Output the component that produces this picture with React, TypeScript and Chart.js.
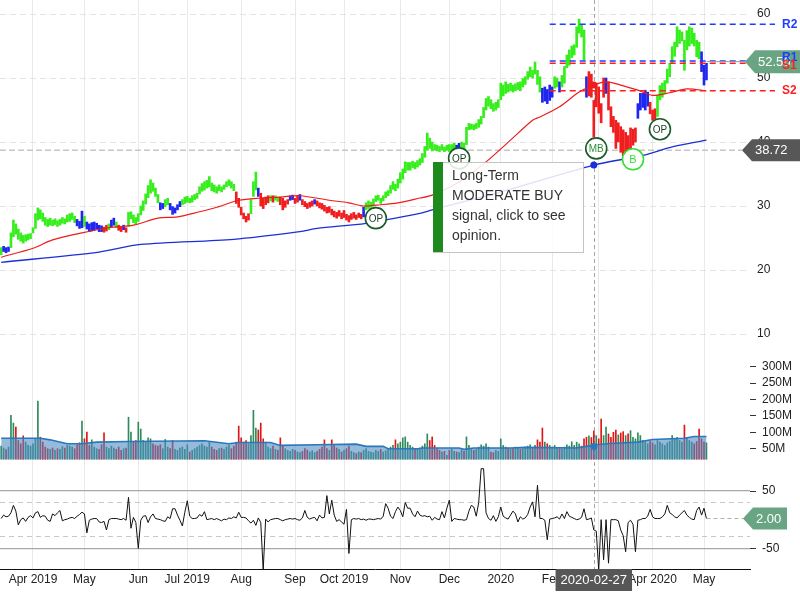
import React, { useEffect, useRef } from 'react';
import { Chart, registerables } from 'chart.js';

Chart.register(...registerables);

// ---------------- data ----------------
const monthTickIdx = [13, 34, 56, 76, 98, 120, 140, 163, 183, 204, 225, 244, 266, 287];
const monthTickLabels = ['Apr 2019', 'May', 'Jun', 'Jul 2019', 'Aug', 'Sep', 'Oct 2019', 'Nov', 'Dec', '2020', 'Feb', 'Mar', 'Apr 2020', 'May'];
const priceTicks = [10, 20, 30, 40, 50, 60];
const volumeTicks = [50, 100, 150, 200, 250, 300];
const oscTicks = [-50, 50];
const oscBandTicks = [-30, 30];

const barLows = [
  22.4, 22.9, 22.7, 22.9, 23.5, 25.2, 25.6, 24.8, 24.5, 24.2,
  24.5, 24.7, 24.9, 25.8, 26.5, 27.8, 28.0, 27.6, 27.0, 26.8,
  27.0, 26.9, 27.1, 26.8, 27.0, 27.3, 27.2, 27.5, 27.6, 27.9,
  27.4, 26.9, 26.5, 26.6, 26.8, 26.4, 26.0, 26.1, 26.2, 26.4,
  26.0, 26.0, 25.9, 26.1, 26.3, 26.7, 27.0, 26.6, 26.2, 26.0,
  26.3, 25.9, 26.8, 28.0, 27.4, 27.1, 27.6, 28.6, 29.3, 30.3,
  31.3, 32.0, 32.3, 31.5, 30.5, 29.4, 29.6, 29.9, 30.2, 29.4,
  28.7, 28.9, 29.4, 29.9, 30.2, 30.4, 30.6, 30.5, 30.6, 31.0,
  31.2, 31.9, 32.3, 32.5, 32.8, 33.0, 32.4, 32.2, 32.0, 32.4,
  32.2, 32.6, 33.0, 33.2, 32.8, 32.4, 30.4, 29.8, 28.6, 28.0,
  27.5, 27.8, 28.8, 31.5, 32.5, 31.5, 30.0, 29.6, 30.2, 30.5,
  30.8, 30.6, 30.9, 30.7, 30.2, 29.4, 29.8, 30.3, 30.9, 31.0,
  30.4, 30.6, 30.9, 30.2, 29.9, 29.6, 29.8, 30.0, 30.3, 30.0,
  29.7, 29.5, 29.2, 28.9, 29.0, 28.6, 28.3, 28.1, 28.4, 28.0,
  28.2, 27.8, 27.5, 27.9, 28.1, 27.9, 28.2, 28.0, 28.3, 29.4,
  29.6, 29.8, 30.0, 30.7, 30.9, 30.4, 30.8, 31.3, 31.6, 32.0,
  32.6, 32.4, 32.8, 33.6, 34.2, 35.2, 35.6, 35.6, 36.0, 35.8,
  36.1, 36.4, 36.8, 37.6, 38.8, 39.0, 38.6, 38.8, 38.6, 38.5,
  38.8, 38.5, 38.7, 38.5, 38.7, 38.8, 38.9, 39.0, 39.2, 38.9,
  39.6, 41.9, 42.0, 41.9, 42.1, 42.3, 42.8, 43.8, 45.0, 45.6,
  45.2, 44.8, 45.0, 45.4, 46.6, 47.2, 47.6, 47.8, 48.0, 47.8,
  48.0, 48.2, 48.0, 48.6, 49.0, 49.8, 50.2, 50.0, 50.6, 49.0,
  47.8, 46.2, 46.4, 46.0, 46.5, 47.0, 48.4, 48.6, 47.8, 48.6,
  49.2, 51.6, 52.0, 53.2, 53.6, 54.8, 57.0, 56.4, 52.8, 47.0,
  47.2, 47.0, 40.8, 45.5, 44.5, 43.0, 47.0, 47.6, 45.0, 42.4,
  41.5, 39.0, 40.0, 38.4, 37.8, 38.2, 37.7, 38.8, 39.5, 40.0,
  43.7, 45.0, 45.4, 45.0, 45.6, 44.4, 43.4, 43.6, 44.0, 46.6,
  47.0, 47.6, 49.2, 50.2, 52.3, 53.4, 54.9, 55.4, 55.8, 51.2,
  54.4, 55.0, 55.4, 55.0, 53.3, 53.0, 51.0, 48.9, 49.7,
];

const barHighs = [
  23.5, 23.7, 23.5, 23.6, 25.8, 27.8, 27.2, 26.4, 25.8, 25.4,
  25.5, 25.6, 25.7, 26.6, 28.8, 29.7, 29.4, 28.9, 28.2, 27.9,
  28.1, 27.8, 28.0, 27.7, 27.9, 28.2, 28.0, 28.6, 28.8, 28.9,
  28.4, 27.9, 27.6, 29.2, 28.4, 27.5, 27.2, 27.4, 27.5, 27.3,
  27.0, 26.9, 26.7, 27.0, 27.2, 27.8, 28.1, 27.5, 27.0, 26.8,
  27.0, 26.6, 29.0, 29.1, 28.6, 28.2, 28.8, 30.0, 30.8, 31.9,
  33.2, 34.1, 33.6, 32.8, 31.8, 30.5, 30.4, 31.0, 31.2, 30.4,
  29.9, 29.7, 30.2, 30.7, 31.0, 31.4, 31.5, 31.2, 31.6, 31.8,
  32.0, 33.0, 33.5, 33.8, 34.0, 34.6, 33.6, 33.3, 33.0, 33.3,
  33.0, 33.3, 33.8, 34.1, 33.8, 33.4, 32.2, 31.2, 29.8, 28.9,
  28.4, 28.8, 31.0, 33.8, 35.3, 32.8, 32.0, 31.2, 31.4, 31.6,
  31.6, 31.6, 31.6, 31.4, 31.4, 31.2, 30.8, 31.0, 31.6, 31.7,
  31.2, 31.5, 31.8, 31.0, 30.7, 30.4, 30.6, 30.8, 31.0, 30.8,
  30.5, 30.4, 30.1, 29.8, 29.9, 29.5, 29.2, 29.0, 29.3, 28.9,
  29.3, 28.7, 28.5, 28.8, 29.0, 28.6, 28.9, 28.7, 29.8, 30.5,
  30.8, 30.6, 31.1, 31.6, 31.7, 31.2, 31.6, 32.2, 32.4, 33.2,
  33.8, 33.4, 34.2, 35.2, 35.8, 36.9, 36.8, 36.8, 37.0, 36.8,
  37.1, 37.4, 38.2, 39.3, 41.4, 40.6, 40.0, 39.6, 39.5, 39.3,
  39.6, 39.2, 39.5, 39.6, 39.6, 39.8, 39.5, 39.8, 40.0, 39.8,
  42.3, 42.9, 42.8, 42.7, 42.9, 43.5, 44.0, 45.4, 46.8, 47.1,
  46.6, 46.0, 46.2, 46.6, 49.2, 48.9, 49.4, 49.0, 49.2, 48.9,
  49.1, 49.3, 49.4, 49.9, 50.2, 51.0, 51.7, 51.2, 52.5, 51.2,
  50.2, 48.4, 48.6, 48.2, 48.9, 48.6, 50.2, 50.0, 49.4, 50.4,
  51.8, 53.6, 54.4, 55.0, 55.2, 58.0, 59.2, 58.4, 57.5, 50.2,
  51.0, 50.6, 46.5, 49.2, 48.6, 46.0, 50.0, 50.0, 49.4, 45.5,
  44.0, 43.4, 43.0, 42.4, 41.9, 41.5, 41.0, 42.2, 42.0, 42.2,
  46.0, 47.6, 47.6, 48.1, 47.8, 46.2, 45.0, 45.2, 47.3, 48.8,
  49.2, 49.6, 51.4, 52.3, 54.9, 55.6, 58.0, 57.5, 57.2, 55.9,
  57.4, 58.0, 57.8, 57.0, 55.9, 55.6, 54.1, 52.0, 52.3,
];

// trend state per bar: g = bullish, b = neutral, r = bearish
const barTrend = (
  'gbbbgggggg gggggggggg gggggggggg gbbbgbbbbb bbrrgbbgrr ' +
  'brgggggggg gggggbbggb bbbbgggggg gggggggggg ggggggrrrr ' +
  'rrgggbrrrr grggrrrrbb rrbrrrrrbr rrrrrrrrrr rrrrrrrrbg ' +
  'gggggggggg gggggggggg gggggggggg ggggggbbgg gggggggggg ' +
  'gggggggggg gggggggggg gbbbbbggbg gggggggggb rrrrrrrbrr ' +
  'rrrrrrrrrr bbbbbrrrgg gggggggggg ggggggbbb'
).replace(/\s/g, '');

// daily volume, millions
const volumes = [
  58, 52, 47, 55, 152, 128, 116, 75, 65, 89,
  70, 60, 58, 65, 80, 195, 85, 70, 55, 50,
  48, 52, 45, 50, 48, 56, 52, 60, 58, 55,
  50, 62, 68, 134, 80, 101, 60, 77, 55, 50,
  48, 62, 98, 55, 50, 58, 52, 48, 55, 45,
  50, 52, 146, 101, 70, 75, 131, 110, 75, 70,
  83, 80, 65, 60, 58, 62, 50, 78, 55, 50,
  75, 48, 45, 52, 55, 48, 62, 40, 45, 50,
  55, 60, 65, 58, 55, 70, 55, 48, 45, 50,
  52, 48, 55, 60, 50, 58, 70, 119, 83, 70,
  75, 65, 90, 167, 113, 107, 128, 80, 70, 55,
  50, 58, 48, 45, 83, 60, 50, 45, 42, 48,
  45, 40, 38, 42, 50, 46, 40, 44, 38, 42,
  48, 55, 77, 50, 45, 77, 60, 52, 48, 40,
  45, 50, 58, 42, 38, 35, 40, 38, 45, 50,
  42, 40, 38, 45, 42, 48, 40, 44, 50, 55,
  60, 77, 65, 70, 83, 86, 70, 60, 55, 50,
  48, 52, 58, 65, 95, 75, 86, 60, 50, 45,
  40, 42, 30, 45, 48, 42, 40, 38, 45, 42,
  86, 60, 50, 45, 48, 55, 62, 58, 65, 55,
  40, 38, 45, 42, 80, 60, 55, 52, 48, 50,
  55, 52, 48, 50, 55, 58, 62, 50, 60, 77,
  70, 113, 70, 65, 60, 55, 60, 52, 50, 48,
  55, 62, 58, 71, 60, 70, 65, 58, 80, 85,
  89, 84, 104, 90, 80, 140, 90, 116, 95, 85,
  100, 107, 92, 98, 102, 90, 95, 105, 85, 80,
  98, 90, 75, 70, 65, 72, 68, 62, 75, 70,
  65, 60, 68, 72, 90, 80, 85, 75, 70, 122,
  85, 75, 70, 65, 72, 110, 80, 70, 68,
];

const oscillator = [
  2, 8, 5, 6, 12, 25, 15, -9, 0, 3,
  -3, 4, 7, 3, 12, 14, 4, 7, 6, -1,
  -3, 10, 7, 12, 16, -2, 0, 1, 3, 4,
  2, 6, 9, 13, 10, -23, -1, 1, 2, 2,
  -4, -5, -3, -18, 0, 2, 2, 2, 1, 0,
  2, -1, 39, -15, 4, -5, -50, -1, 6, 7,
  -5, 5, 10, 2, 1, 0, -2, -3, 5, 2,
  19, 19, 8, -1, -11, 13, 33, 6, 2, 2,
  3, 9, 6, 14, 0, 1, 2, 0, 2, 0,
  -2, 1, 0, 3, 2, 5, 3, 13, 4, 4,
  3, -2, -6, -1, -10, 3, -5, -88, 1, -4,
  0, 1, 2, 2, 0, -2, 0, 1, 2, 1,
  2, 0, -1, 3, 16, 4, 1, 3, 4, -2,
  8, 3, 4, 42, 10, 34, 8, -3, 0, -4,
  -8, 18, -59, 0, 2, 1, 2, 0, 1, -1,
  1, 1, 0, 1, 2, 1, 6, 28, 20, 6,
  2, 14, 22, 16, 5, 30, 20, 20, 10, 5,
  15, 8, 6, 7, 5, 6, -1, 4, 1, 0,
  14, 3, 20, 34, -3, 2, 1, 0, 0, -1,
  0, 15, 25, 22, 6, 30, 89, 89, 12, 2,
  -1, 7, -3, 5, 22, 6, 3, 1, 8, 15,
  10, -4, 5, 1, 3, 9, 22, 31, 5, 60,
  2, 2, -1, -35, 1, 2, 3, 5, 1, 10,
  2, 14, 6, 4, 2, 0, 1, 4, 19, 0,
  1, 3, -18, -20, -88, 0, -70, 0, -76, 0,
  0, 0, -2, -18, -28, -56, -5, -1, -8, -56,
  -1, 0, 2, 2, 6, 18, 5, 2, 2, 2,
  5, 10, 25, 12, 9, 5, 3, 8, 12, 16,
  8, 4, 1, 0, 16, 22, 8, 20, 2,
];

// moving averages read at selected sessions
const redMAIdx = [0, 13, 21, 33, 44, 54, 64, 72, 81, 88, 97, 106, 114, 122, 134, 142, 148, 155, 162, 171, 176, 187, 198, 208, 217, 220, 228, 236, 242, 247, 253, 260, 266, 273, 280, 288];
const redMAVal = [22.0, 23.4, 24.7, 25.8, 26.6, 27.0, 28.1, 28.3, 29.1, 29.8, 30.9, 31.25, 31.4, 31.6, 30.9, 30.5, 30.0, 30.2, 30.5, 31.25, 31.7, 33.75, 36.9, 40.3, 43.4, 43.9, 45.5, 47.8, 48.9, 49.4, 48.9, 48.1, 47.3, 47.7, 48.3, 48.0];
const blueMAIdx = [0, 40, 57, 95, 122, 129, 149, 171, 176, 204, 242, 262, 274, 288];
const blueMAVal = [21.2, 22.8, 24.0, 24.8, 26.0, 26.5, 27.3, 28.85, 29.4, 32.2, 36.4, 37.9, 39.25, 40.3];
const volMAIdx = [0, 16, 20, 27, 33, 39, 52, 83, 93, 97, 110, 114, 129, 145, 149, 156, 158, 170, 172, 187, 189, 193, 208, 214, 235, 239, 243, 249, 260, 266, 279, 283, 288];
const volMAVal = [82, 82, 77, 65, 65, 70, 72, 74, 65, 69, 69, 60, 62, 64, 57, 57, 50, 50, 52, 52, 48, 52, 52, 54, 52, 57, 62, 66, 70, 78, 82, 87, 87];
const volBase = 17.7;

// support / resistance
const levelNames = ['R2', 'R1', 'S1', 'S2'];
const levelValues = [58.4, 52.66, 52.3, 48.0];
const levelStartIdx = 224;
const levelEndIdx = 316;

// crosshair
const crossIdx = 242;
const crossPrice = 38.72;
const crossDate = '2020-02-27';
const crossRedMA = 48.9;
const crossBlueMA = 36.4;
const crossVolMA = 57;
const lastPrice = 52.56;
const lastOsc = 2.0;

// signals
const signalIdx = [153, 187, 243, 258, 269];
const signalPrice = [28.1, 37.45, 39.0, 37.3, 42.0];
const signalText = ['OP', 'OP', 'MB', 'B', 'OP'];
const signalKind = ['op', 'op', 'mb', 'b', 'op'];

const tooltipLines = ['Long-Term', 'MODERATE BUY', 'signal, click to see', 'opinion.'];

// ---------------- styles ----------------
const FONT = "'Liberation Sans', Arial, Helvetica, sans-serif";
const trendColors: Record<string, string> = { g: '#36ee1c', b: '#1f26f0', r: '#f01e1e' };
const levelColors = ['#1f3cff', '#1f3cff', '#ff1f1f', '#ff1f1f'];
const signalStroke: Record<string, string> = { op: '#1b5a2b', mb: '#1b5a2b', b: '#33e033' };
const signalTextColor: Record<string, string> = { op: '#1b3d24', mb: '#2f8f3c', b: '#33e033' };

function tag(ctx: any, tipX: number, cy: number, w: number, h: number, color: string, text: string) {
  ctx.save();
  ctx.fillStyle = color;
  ctx.beginPath();
  ctx.moveTo(tipX, cy);
  ctx.lineTo(tipX + 10, cy - h / 2);
  ctx.lineTo(tipX + w, cy - h / 2);
  ctx.lineTo(tipX + w, cy + h / 2);
  ctx.lineTo(tipX + 10, cy + h / 2);
  ctx.closePath();
  ctx.fill();
  ctx.fillStyle = '#ffffff';
  ctx.font = `13px ${FONT}`;
  ctx.textAlign = 'left';
  ctx.textBaseline = 'middle';
  ctx.fillText(text, tipX + 13, cy + 0.5);
  ctx.restore();
}

const MARKER_DS = 12;
const AXIS_BAND = 50;
const RIGHT_AXES = ['y', 'yv', 'yo', 'yoGrid', 'yo2'];

const overlayPlugin = {
  id: 'overlay',
  afterLayout(chart: any) {
    // the y axes share one strip on the right: widen their boxes so labels are not clipped
    RIGHT_AXES.forEach((id) => {
      const s = chart.scales[id];
      if (s) {
        s.left = chart.chartArea.right;
        s.right = s.left + AXIS_BAND;
        s.width = AXIS_BAND;
      }
    });
  },
  beforeDatasetsDraw(chart: any) {
    const { ctx, chartArea, scales } = chart;
    const cx = Math.round(scales.x.getPixelForValue(crossIdx)) + 0.5;
    const cy = scales.y.getPixelForValue(crossPrice);
    ctx.save();
    ctx.lineWidth = 1;
    ctx.strokeStyle = '#a6a6a6';
    ctx.setLineDash([4, 3]);
    ctx.beginPath();
    ctx.moveTo(cx, chartArea.top);
    ctx.lineTo(cx, chartArea.bottom);
    ctx.stroke();
    ctx.strokeStyle = '#c6c6c6';
    ctx.lineWidth = 1.5;
    ctx.setLineDash([6, 3]);
    ctx.beginPath();
    ctx.moveTo(chartArea.left, cy);
    ctx.lineTo(chartArea.right - 8, cy);
    ctx.stroke();
    ctx.restore();
  },
  afterDatasetsDraw(chart: any) {
    const { ctx } = chart;
    const meta = chart.getDatasetMeta(MARKER_DS);
    ctx.save();
    ctx.textAlign = 'center';
    ctx.textBaseline = 'middle';
    meta.data.forEach((el: any, i: number) => {
      const k = signalKind[i];
      ctx.fillStyle = signalTextColor[k];
      ctx.font = `${k === 'b' ? 11 : 10}px ${FONT}`;
      ctx.fillText(signalText[i], el.x, el.y + 1);
    });
    ctx.restore();
  },
  afterDraw(chart: any) {
    const { ctx, chartArea, scales } = chart;
    const x = scales.x;
    const y = scales.y;
    const lastX = x.getPixelForValue(barLows.length - 1);

    // oscillator tick marks
    ctx.save();
    ctx.strokeStyle = '#333333';
    ctx.lineWidth = 1;
    oscTicks.forEach((v) => {
      const ty = Math.round(scales.yo.getPixelForValue(v)) + 0.5;
      ctx.beginPath();
      ctx.moveTo(chartArea.right + 1, ty);
      ctx.lineTo(chartArea.right + 6, ty);
      ctx.stroke();
    });
    ctx.restore();

    // last price line + tag
    const ly = y.getPixelForValue(lastPrice);
    ctx.save();
    ctx.strokeStyle = '#9a9a9a';
    ctx.lineWidth = 1;
    ctx.beginPath();
    ctx.moveTo(lastX, ly);
    ctx.lineTo(chartArea.right - 5, ly);
    ctx.stroke();
    ctx.restore();
    tag(ctx, chartArea.right - 5, ly, 60, 23, '#6aa583', lastPrice.toFixed(2));

    // level labels
    ctx.save();
    ctx.font = `bold 12px ${FONT}`;
    ctx.textAlign = 'left';
    ctx.textBaseline = 'middle';
    levelNames.forEach((n, i) => {
      const py = y.getPixelForValue(levelValues[i]);
      ctx.fillStyle = levelColors[i];
      const off = n === 'R1' ? -3 : n === 'S1' ? 2 : 0;
      ctx.fillText(n, chartArea.right + 32, py + off);
    });
    ctx.restore();

    // crosshair price tag
    tag(ctx, chartArea.right - 8, y.getPixelForValue(crossPrice), 62, 22, '#575757', crossPrice.toFixed(2));

    // oscillator last value
    const ox = x.getPixelForValue(oscillator.length - 1);
    const oy = scales.yo.getPixelForValue(lastOsc);
    ctx.save();
    ctx.strokeStyle = '#b0b0b0';
    ctx.setLineDash([4, 3]);
    ctx.beginPath();
    ctx.moveTo(ox, oy);
    ctx.lineTo(chartArea.right - 7, oy);
    ctx.stroke();
    ctx.restore();
    tag(ctx, chartArea.right - 7, oy, 44, 22, '#6aa583', lastOsc.toFixed(2));

    // date tag
    const cx = x.getPixelForValue(crossIdx);
    ctx.save();
    ctx.font = `13px ${FONT}`;
    const tw = ctx.measureText(crossDate).width;
    ctx.fillStyle = '#575757';
    ctx.fillRect(cx - tw / 2 - 5, chartArea.bottom, tw + 10, 22);
    ctx.fillStyle = '#ffffff';
    ctx.textAlign = 'center';
    ctx.textBaseline = 'middle';
    ctx.fillText(crossDate, cx, chartArea.bottom + 11.5);
    ctx.restore();

    // signal tooltip
    const bx = 433, by = 162, bw = 150, bh = 90;
    ctx.save();
    ctx.fillStyle = 'rgba(255,255,255,0.86)';
    ctx.fillRect(bx, by, bw, bh);
    ctx.strokeStyle = '#c4c4c4';
    ctx.lineWidth = 1;
    ctx.strokeRect(bx + 0.5, by + 0.5, bw, bh);
    ctx.fillStyle = '#1e8a1e';
    ctx.fillRect(bx, by, 10, bh);
    ctx.fillStyle = '#333333';
    ctx.font = `14px ${FONT}`;
    ctx.textAlign = 'left';
    ctx.textBaseline = 'middle';
    tooltipLines.forEach((t, i) => ctx.fillText(t, bx + 19, by + 14 + i * 20));
    ctx.restore();
  },
};

export default function App() {
  const ref = useRef<HTMLCanvasElement | null>(null);

  useEffect(() => {
    if (!ref.current) return;
    Chart.defaults.font.family = FONT;
    Chart.defaults.font.size = 12;

    const n = barLows.length;
    const idx = barLows.map((_, i) => i);
    const mids = idx.map((i) => (barLows[i] + barHighs[i]) / 2);

    const priceBars = idx.map((i) => ({ x: i, y: [barLows[i], barHighs[i]] }));
    const priceColors = idx.map((i) => trendColors[barTrend[i]] || trendColors.g);
    const volBars = idx.map((i) => ({ x: i, y: [volBase, volumes[i]] }));
    const volColors = idx.map((i) => (i === 0 || mids[i] >= mids[i - 1] ? '#2f8a5c' : '#e01515'));
    const oscData = oscillator.slice(0, n).map((v, i) => ({ x: i, y: v }));

    const levelSets = levelNames.map((name, i) => ({
      type: 'line',
      label: name,
      yAxisID: 'y',
      data: [{ x: levelStartIdx, y: levelValues[i] }, { x: levelEndIdx, y: levelValues[i] }],
      borderColor: levelColors[i],
      borderWidth: 1.6,
      borderDash: [6, 4],
      pointRadius: 0,
      clip: false,
      order: 6,
    }));

    const hideAxis = (s: any) => {
      s.width = 0;
      s.paddingTop = 0;
      s.paddingBottom = 0;
    };
    const fixedTicks = (vals: number[]) => (s: any) => { s.ticks = vals.map((v) => ({ value: v })); };

    const chart = new Chart(ref.current, {
      type: 'bar',
      data: {
        datasets: [
          {
            type: 'bar', label: 'vol', yAxisID: 'yv', data: volBars,
            backgroundColor: volColors, barThickness: 1, grouped: false, borderWidth: 0, order: 10,
          },
          {
            type: 'line', label: 'volMA', yAxisID: 'yv',
            data: volMAIdx.map((v, i) => ({ x: v, y: volMAVal[i] })),
            borderColor: '#2a78bb', borderWidth: 1.6, backgroundColor: 'rgba(78,140,196,0.6)',
            fill: { value: volBase }, pointRadius: 0, tension: 0, order: 9,
          },
          {
            type: 'bar', label: 'price', yAxisID: 'y', data: priceBars,
            backgroundColor: priceColors, barThickness: 2, grouped: false, borderWidth: 0, order: 8,
          },
          {
            type: 'line', label: 'osc', yAxisID: 'yo', data: oscData,
            borderColor: '#111111', borderWidth: 1, pointRadius: 0, tension: 0, order: 8,
          },
          {
            type: 'line', label: 'ma1', yAxisID: 'y',
            data: redMAIdx.map((v, i) => ({ x: v, y: redMAVal[i] })),
            borderColor: '#ee1c1c', borderWidth: 1.2, pointRadius: 0, tension: 0.3, order: 7,
          },
          {
            type: 'line', label: 'ma2', yAxisID: 'y',
            data: blueMAIdx.map((v, i) => ({ x: v, y: blueMAVal[i] })),
            borderColor: '#1a30d4', borderWidth: 1.3, pointRadius: 0, tension: 0.3, order: 7,
          },
          ...levelSets,
          {
            type: 'line', label: 'crossDots', yAxisID: 'y', showLine: false,
            data: [{ x: crossIdx, y: crossRedMA }, { x: crossIdx, y: crossBlueMA }],
            pointRadius: 3.5, pointBackgroundColor: ['#ee1c1c', '#1a30d4'], pointBorderWidth: 0, order: 5,
          },
          {
            type: 'line', label: 'crossVol', yAxisID: 'yv', showLine: false,
            data: [{ x: crossIdx, y: crossVolMA }],
            pointRadius: 3.5, pointBackgroundColor: '#2a78bb', pointBorderWidth: 0, order: 5,
          },
          {
            type: 'line', label: 'signals', yAxisID: 'y', showLine: false,
            data: signalIdx.map((v, i) => ({ x: v, y: signalPrice[i] })),
            pointRadius: 10.5, pointBackgroundColor: '#ffffff',
            pointBorderColor: signalKind.map((k) => signalStroke[k]), pointBorderWidth: 1.6, order: 4,
          },
        ] as any,
      },
      options: {
        responsive: false,
        animation: false,
        events: [],
        layout: { autoPadding: false, padding: { left: 0, right: AXIS_BAND, top: 0, bottom: 0 } },
        plugins: { legend: { display: false }, tooltip: { enabled: false } },
        scales: {
          x: {
            type: 'linear', min: -0.475, max: 305.78, offset: false,
            afterBuildTicks: fixedTicks(monthTickIdx),
            afterFit: (s: any) => { s.height = 31; s.paddingLeft = 0; s.paddingRight = 0; },
            ticks: {
              autoSkip: false, maxRotation: 0, minRotation: 0, padding: 3, color: '#222',
              font: { size: 12 }, callback: (_v: any, i: number) => monthTickLabels[i],
            },
            grid: { color: '#e9e9e9', drawTicks: false, offset: false },
            border: { display: true, color: '#111', width: 1 },
          },
          y: {
            type: 'linear', position: 'right', min: -26.72, max: 62.19,
            afterBuildTicks: fixedTicks(priceTicks),
            afterFit: hideAxis,
            ticks: { padding: 7, color: '#222', font: { size: 12 } },
            grid: { color: '#e4e4e4', drawTicks: false },
            border: { display: false, dash: [6, 4] },
          },
          yv: {
            type: 'linear', position: 'right', min: -316.8, max: 1418,
            afterBuildTicks: fixedTicks(volumeTicks),
            afterFit: hideAxis,
            ticks: { padding: 6, color: '#222', font: { size: 12 }, callback: (v: any) => `${v}M` },
            grid: { drawOnChartArea: false, drawTicks: true, tickLength: 6, tickColor: '#333', tickWidth: 1 },
            border: { display: false },
          },
          yo: {
            type: 'linear', position: 'right', min: -86.1, max: 906.9,
            afterBuildTicks: fixedTicks(oscTicks),
            afterFit: hideAxis,
            ticks: { padding: 6, color: '#222', font: { size: 12 } },
            grid: { drawOnChartArea: false, drawTicks: true, tickLength: 6, tickColor: '#333', tickWidth: 1 },
            border: { display: false },
          },
          yoGrid: {
            type: 'linear', position: 'right', min: -86.1, max: 906.9,
            afterBuildTicks: fixedTicks(oscTicks),
            afterFit: hideAxis,
            ticks: { display: false },
            grid: { color: '#a8a8a8', lineWidth: 1.2, drawTicks: false },
            border: { display: false },
          },
          yo2: {
            type: 'linear', position: 'right', min: -86.1, max: 906.9,
            afterBuildTicks: fixedTicks(oscBandTicks),
            afterFit: hideAxis,
            ticks: { display: false },
            grid: { color: '#c8c8c8', drawTicks: false },
            border: { display: false, dash: [5, 4] },
          },
        },
      } as any,
      plugins: [overlayPlugin],
    });
    return () => chart.destroy();
  }, []);

  return (
    <div style={{ position: 'absolute', left: 0, top: 0, width: 800, height: 600, background: '#fff' }}>
      <canvas ref={ref} width={800} height={600} style={{ display: 'block' }} />
    </div>
  );
}
